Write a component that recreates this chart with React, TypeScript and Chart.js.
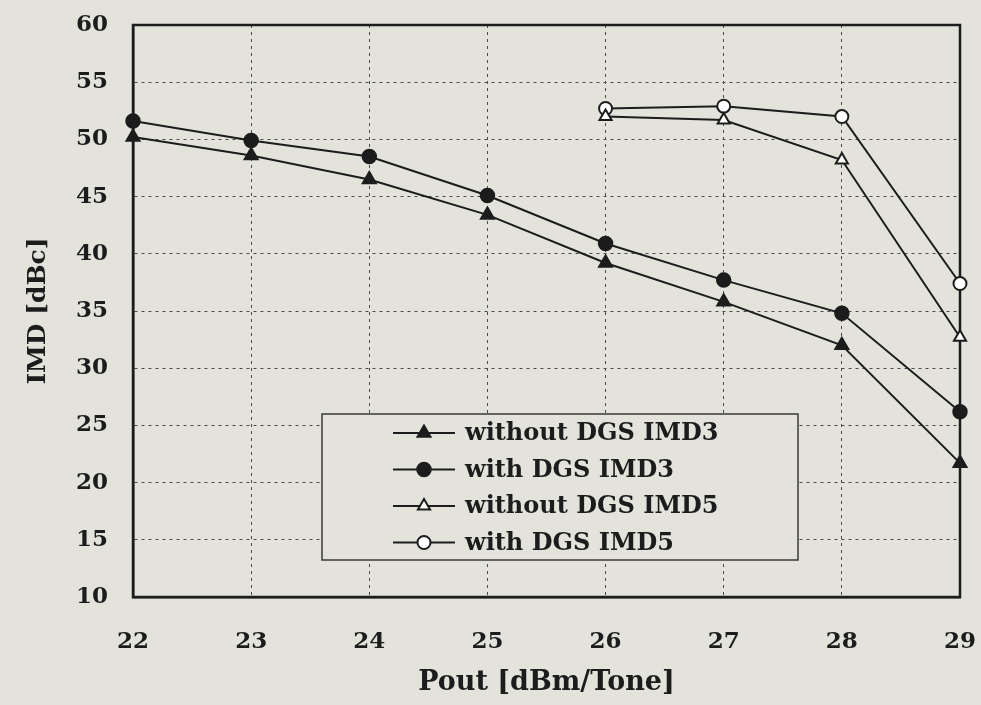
import React, { useEffect, useRef } from 'react';
import { Chart, registerables } from 'chart.js';
Chart.register(...registerables);

const poutImd3 = [22, 23, 24, 25, 26, 27, 28, 29];
const withoutDgsImd3 = [50.2, 48.6, 46.5, 43.4, 39.2, 35.8, 32.0, 21.7];
const withDgsImd3 = [51.6, 49.9, 48.5, 45.1, 40.9, 37.7, 34.8, 26.2];
const poutImd5 = [26, 27, 28, 29];
const withoutDgsImd5 = [52.0, 51.7, 48.2, 32.7];
const withDgsImd5 = [52.7, 52.9, 52.0, 37.4];
const xTicks = [22, 23, 24, 25, 26, 27, 28, 29];
const yTicks = [10, 15, 20, 25, 30, 35, 40, 45, 50, 55, 60];

const BG = '#e3e3db';
const INK = '#1c1c1c';
const FONT = '"DejaVu Serif", "Liberation Serif", serif';

const toPts = (xs: number[], ys: number[]) => xs.map((x, i) => ({ x, y: ys[i] }));

const bgPlugin = {
  id: 'bgFill',
  beforeDraw(chart: any) {
    const { ctx, width, height } = chart;
    ctx.save();
    ctx.fillStyle = BG;
    ctx.fillRect(0, 0, width, height);
    ctx.restore();
  },
};

const framePlugin = {
  id: 'frame',
  beforeDatasetsDraw(chart: any) {
    const { ctx, chartArea: a } = chart;
    ctx.save();
    ctx.strokeStyle = INK;
    ctx.lineWidth = 2.5;
    ctx.strokeRect(a.left, a.top, a.right - a.left, a.bottom - a.top);
    ctx.restore();
  },
};

const boxLegend = {
  id: 'boxLegend',
  afterDatasetsDraw(chart: any) {
    const { ctx } = chart;
    const bx = 322, by = 414, bw = 476, bh = 146;
    ctx.save();
    ctx.fillStyle = BG;
    ctx.fillRect(bx, by, bw, bh);
    ctx.strokeStyle = '#3a3a3a';
    ctx.lineWidth = 1.5;
    ctx.strokeRect(bx, by, bw, bh);
    const rowY0 = 433, rowGap = 36.5;
    chart.data.datasets.forEach((ds: any, i: number) => {
      const y = rowY0 + i * rowGap;
      const x0 = 393, x1 = 455, cx = 424;
      ctx.strokeStyle = INK;
      ctx.lineWidth = 2;
      ctx.beginPath();
      ctx.moveTo(x0, y);
      ctx.lineTo(x1, y);
      ctx.stroke();
      const r = ds.pointRadius;
      ctx.fillStyle = ds.pointBackgroundColor;
      ctx.lineWidth = ds.pointBorderWidth;
      ctx.beginPath();
      if (ds.pointStyle === 'circle') {
        ctx.arc(cx, y, r, 0, Math.PI * 2);
      } else {
        let a = 0;
        ctx.moveTo(cx + Math.sin(a) * r, y - Math.cos(a) * r);
        a += (2 * Math.PI) / 3;
        ctx.lineTo(cx + Math.sin(a) * r, y - Math.cos(a) * r);
        a += (2 * Math.PI) / 3;
        ctx.lineTo(cx + Math.sin(a) * r, y - Math.cos(a) * r);
        ctx.closePath();
      }
      ctx.fill();
      ctx.stroke();
      ctx.fillStyle = INK;
      ctx.font = `bold 24px ${FONT}`;
      ctx.textBaseline = 'middle';
      ctx.textAlign = 'left';
      ctx.fillText(ds.label, 465, y + 1);
    });
    ctx.restore();
  },
};

export default function App() {
  const ref = useRef<HTMLCanvasElement | null>(null);
  useEffect(() => {
    const canvas = ref.current;
    if (!canvas) return;
    const common = {
      showLine: true,
      borderColor: INK,
      borderWidth: 2,
      pointBorderColor: INK,
      tension: 0,
    };
    const chart = new Chart(canvas, {
      type: 'scatter',
      data: {
        datasets: [
          { ...common, label: 'without DGS IMD3', data: toPts(poutImd3, withoutDgsImd3), pointStyle: 'triangle', pointRadius: 8, pointBackgroundColor: INK, pointBorderWidth: 1.5 },
          { ...common, label: 'with DGS IMD3', data: toPts(poutImd3, withDgsImd3), pointStyle: 'circle', pointRadius: 7, pointBackgroundColor: INK, pointBorderWidth: 1.5 },
          { ...common, label: 'without DGS IMD5', data: toPts(poutImd5, withoutDgsImd5), pointStyle: 'triangle', pointRadius: 7, pointBackgroundColor: '#ffffff', pointBorderWidth: 2 },
          { ...common, label: 'with DGS IMD5', data: toPts(poutImd5, withDgsImd5), pointStyle: 'circle', pointRadius: 6.5, pointBackgroundColor: '#ffffff', pointBorderWidth: 2 },
        ] as any,
      },
      options: {
        responsive: false,
        animation: false,
        clip: false as any,
        layout: { padding: { top: 25, right: 21, left: 0, bottom: 0 } },
        plugins: { legend: { display: false }, tooltip: { enabled: false }, title: { display: false } },
        scales: {
          x: {
            type: 'linear',
            min: 22,
            max: 29,
            afterFit: (s: any) => { s.height = 108; s.paddingLeft = 0; s.paddingRight = 0; },
            afterBuildTicks: (s: any) => { s.ticks = xTicks.map((v) => ({ value: v })); },
            border: { display: true, color: INK, width: 2.5, dash: [3, 4] },
            grid: { color: '#4a4a4a', lineWidth: 1, drawTicks: false },
            ticks: { padding: 31, color: INK, font: { family: FONT, size: 23, weight: 'bold' } },
            title: { display: true, text: 'Pout [dBm/Tone]', color: INK, font: { family: FONT, size: 27, weight: 'bold' }, padding: { top: 0, bottom: 6 } },
          },
          y: {
            type: 'linear',
            min: 10,
            max: 60,
            afterFit: (s: any) => { s.width = 133; s.paddingTop = 0; s.paddingBottom = 0; },
            afterBuildTicks: (s: any) => { s.ticks = yTicks.map((v) => ({ value: v })); },
            border: { display: true, color: INK, width: 2.5, dash: [3, 4] },
            grid: { color: '#4a4a4a', lineWidth: 1, drawTicks: false },
            ticks: { padding: 25, color: INK, font: { family: FONT, size: 23, weight: 'bold' } },
            title: { display: true, text: 'IMD [dBc]', color: INK, font: { family: FONT, size: 25, weight: 'bold' }, padding: { top: 23, bottom: 0 } },
          },
        },
      } as any,
      plugins: [bgPlugin, framePlugin, boxLegend],
    });
    return () => chart.destroy();
  }, []);
  return (
    <div style={{ position: 'fixed', left: 0, top: 0, width: 981, height: 705 }}>
      <canvas ref={ref} width={981} height={705} style={{ width: 981, height: 705, display: 'block' }} />
    </div>
  );
}
